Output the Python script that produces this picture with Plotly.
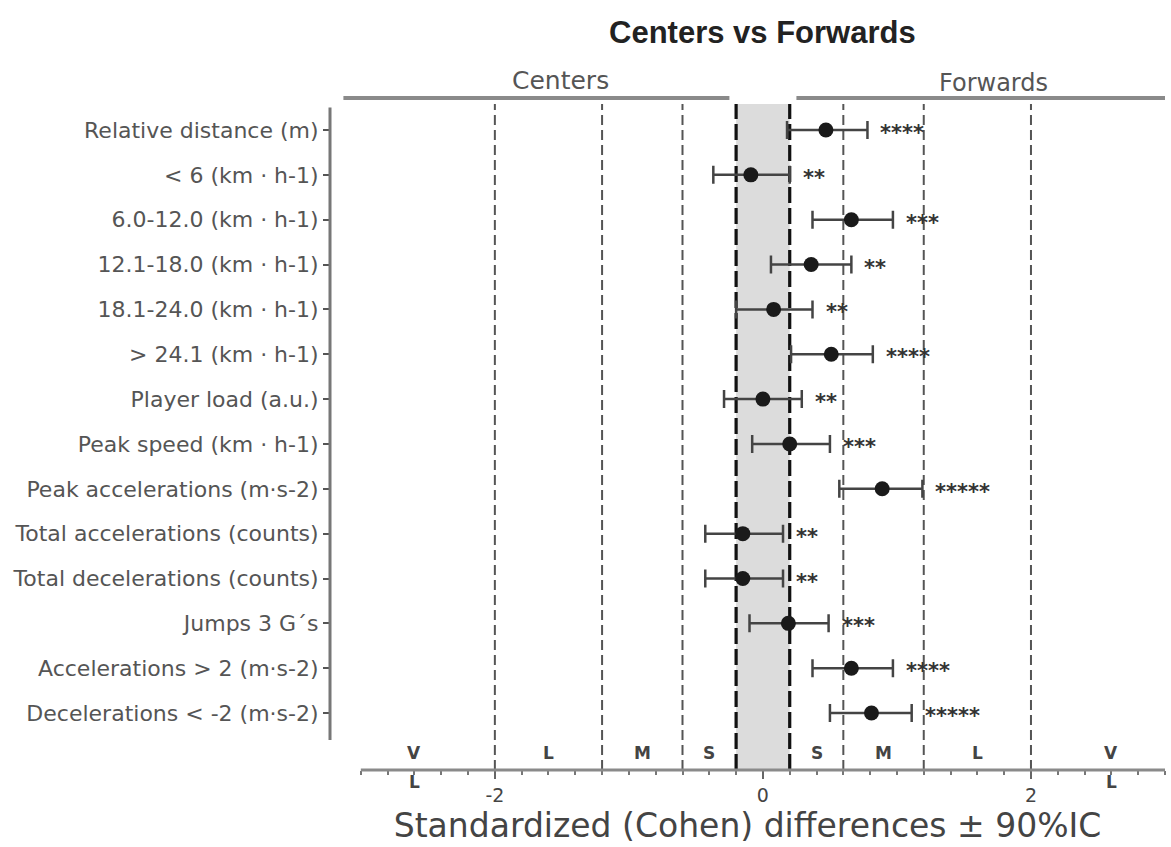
import numpy as np
import plotly.graph_objects as go

categories = [
    "Relative distance (m)",
    "< 6 (km · h-1)",
    "6.0-12.0 (km · h-1)",
    "12.1-18.0 (km · h-1)",
    "18.1-24.0 (km · h-1)",
    "> 24.1 (km · h-1)",
    "Player load (a.u.)",
    "Peak speed (km · h-1)",
    "Peak accelerations (m·s-2)",
    "Total accelerations (counts)",
    "Total decelerations (counts)",
    "Jumps 3 G´s",
    "Accelerations > 2 (m·s-2)",
    "Decelerations < -2 (m·s-2)",
]
effect = [0.47, -0.09, 0.66, 0.36, 0.08, 0.51, 0.00, 0.20, 0.89, -0.15, -0.15, 0.19, 0.66, 0.81]
ci_low = [0.18, -0.37, 0.37, 0.06, -0.20, 0.21, -0.29, -0.08, 0.57, -0.43, -0.43, -0.10, 0.37, 0.50]
ci_high = [0.78, 0.20, 0.97, 0.66, 0.37, 0.82, 0.29, 0.50, 1.19, 0.15, 0.15, 0.49, 0.97, 1.11]
stars = ["****", "**", "***", "**", "**", "****", "**", "***", "*****", "**", "**", "***", "****", "*****"]

thresholds = [-2.0, -1.2, -0.6, -0.2, 0.2, 0.6, 1.2, 2.0]
trivial_band = [-0.2, 0.2]
magnitude_labels = ["V", "L", "M", "S", "S", "M", "L", "V"]
magnitude_pos = [-2.6, -1.6, -0.9, -0.4, 0.4, 0.9, 1.6, 2.6]
x_tick_vals = [-2, 0, 2]
x_tick_text = ["-2", "0", "2"]
group_labels = ["Centers", "Forwards"]

FONT = "DejaVu Sans"
n = len(categories)
ypos = list(range(n))

fig = go.Figure()
fig.add_trace(go.Scatter(
    x=effect, y=ypos, mode="markers",
    marker=dict(size=15, color="#1a1a1a"),
    error_x=dict(type="data", symmetric=False,
                 array=[h - m for h, m in zip(ci_high, effect)],
                 arrayminus=[m - l for m, l in zip(effect, ci_low)],
                 color="#444444", thickness=2.5, width=9),
    showlegend=False, hoverinfo="skip",
))

shapes = []
# trivial band
shapes.append(dict(type="rect", xref="x", yref="paper", x0=trivial_band[0], x1=trivial_band[1],
                   y0=0, y1=1, fillcolor="#dcdcdc", line=dict(width=0), layer="below"))
for t in thresholds:
    thick = abs(t) < 0.3
    shapes.append(dict(type="line", xref="x", yref="paper", x0=t, x1=t, y0=0, y1=1,
                       line=dict(color="#111111" if thick else "#555555",
                                 width=3.2 if thick else 2,
                                 dash="16px,5px" if thick else "10px,5px"),
                       layer="below"))
# x axis line
shapes.append(dict(type="line", xref="x", yref="paper", x0=-3, x1=3, y0=0, y1=0,
                   line=dict(color="#8a8a8a", width=3)))
# y axis line
shapes.append(dict(type="line", xref="paper", yref="y", x0=0, x1=0, y0=-0.5, y1=13.6,
                   line=dict(color="#777777", width=3)))
# group brackets
shapes.append(dict(type="line", xref="x", yref="paper", x0=-3.13, x1=-0.25, y0=1.009, y1=1.009,
                   line=dict(color="#8a8a8a", width=4)))
shapes.append(dict(type="line", xref="x", yref="paper", x0=0.25, x1=3.06, y0=1.009, y1=1.009,
                   line=dict(color="#8a8a8a", width=4)))

annotations = []
for i, s in enumerate(stars):
    annotations.append(dict(x=ci_high[i], y=ypos[i], xref="x", yref="y", text="<b>%s</b>" % s,
                            showarrow=False, xanchor="left", yanchor="middle", xshift=11, yshift=-3,
                            font=dict(family=FONT, size=21, color="#333333")))
for lab, xp in zip(magnitude_labels, magnitude_pos):
    annotations.append(dict(x=xp, y=0.0255, xref="x", yref="paper", text="<b>%s</b>" % lab,
                            showarrow=False, xanchor="center", yanchor="middle",
                            font=dict(family=FONT, size=17, color="#444444")))
    if lab == "V":
        annotations.append(dict(x=xp, y=-0.018, xref="x", yref="paper", text="<b>L</b>",
                                showarrow=False, xanchor="center", yanchor="middle",
                                font=dict(family=FONT, size=17, color="#444444")))
annotations.append(dict(x=-1.51, y=1.036, xref="x", yref="paper", text=group_labels[0], showarrow=False,
                        xanchor="center", yanchor="middle", font=dict(family=FONT, size=25, color="#555555")))
annotations.append(dict(x=1.72, y=1.032, xref="x", yref="paper", text=group_labels[1], showarrow=False,
                        xanchor="center", yanchor="middle", font=dict(family=FONT, size=24, color="#555555")))
annotations.append(dict(x=0, y=1.108, xref="x", yref="paper", text="<b>Centers vs Forwards</b>",
                        showarrow=False, xanchor="center", yanchor="middle",
                        font=dict(family="Liberation Sans", size=31, color="#222222")))

minor_vals = [round(v, 1) for v in np.arange(-3.0, 3.01, 0.2)]

fig.update_layout(
    width=1171, height=847,
    margin=dict(l=330, r=6, t=104, b=77),
    paper_bgcolor="white", plot_bgcolor="white",
    shapes=shapes, annotations=annotations,
    xaxis=dict(range=[-3.23, 3.0], showgrid=False, zeroline=False, showline=False,
               tickmode="array", tickvals=x_tick_vals, ticktext=x_tick_text,
               ticks="outside", ticklen=8, tickwidth=2, tickcolor="#666666",
               minor=dict(tickmode="array", tickvals=minor_vals, ticks="outside",
                          ticklen=4, tickwidth=2, tickcolor="#777777"),
               tickfont=dict(family=FONT, size=19, color="#444444"),
               title=dict(text="Standardized (Cohen) differences ± 90%IC", standoff=8,
                          font=dict(family=FONT, size=33, color="#444444")),
               automargin=False, fixedrange=True),
    yaxis=dict(range=[14.27, -0.58], showgrid=False, zeroline=False, showline=False,
               tickmode="array", tickvals=ypos, ticktext=categories,
               ticks="outside", ticklen=6, tickwidth=2, tickcolor="#555555",
               tickfont=dict(family=FONT, size=22, color="#555555"),
               automargin=False, fixedrange=True),
)

fig.write_html("out.html", config={"displayModeBar": False, "staticPlot": True},
               post_script="document.body.style.margin='0';document.body.style.overflow='hidden';")
